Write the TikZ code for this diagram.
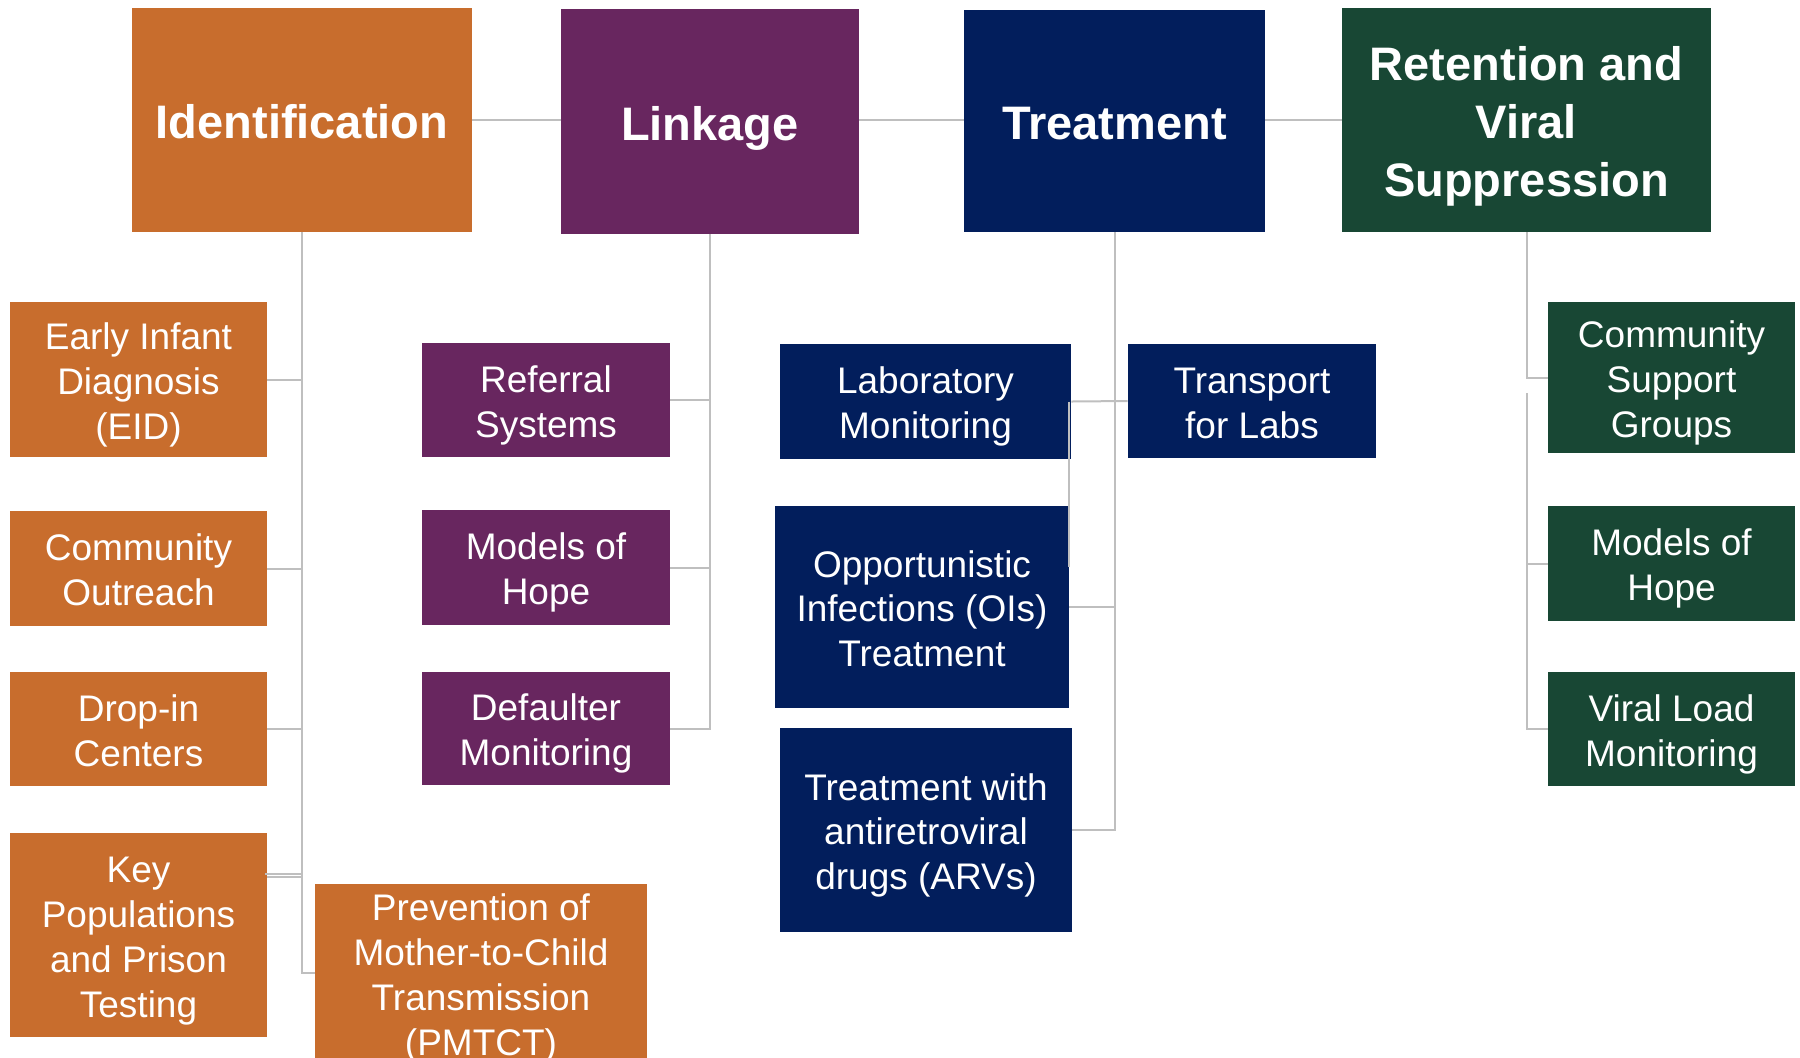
\documentclass[tikz,border=0pt]{standalone}
\usepackage{fontspec}
\setmainfont{Liberation Sans}
\definecolor{orng}{HTML}{C86D2D}
\definecolor{purp}{HTML}{68265F}
\definecolor{navy}{HTML}{021E5C}
\definecolor{grn}{HTML}{184734}
\definecolor{link}{HTML}{BFBFBF}
\begin{document}
\begin{tikzpicture}[x=0.5pt,y=-0.5pt,
  head/.style={inner sep=0pt, align=center, text=white,
    text height=23.5pt, text depth=4.7pt,
    font=\fontsize{23.5}{29}\selectfont\bfseries},
  headthree/.style={head, text height=81.5pt},
  sub/.style={inner sep=0pt, align=center, text=white,
    text height=40.9pt, text depth=3.7pt,
    font=\fontsize{18.5}{22.4}\selectfont},
  subthree/.style={sub, text height=63.3pt},
  subfour/.style={sub, text height=85.7pt},
  conn/.style={draw=link, line width=1pt}]
\useasboundingbox (0,0) rectangle (1800,1057);
\clip (0,0) rectangle (1800,1057);

% stage headers
\node[head, fill=orng, minimum width=170pt, minimum height=112pt] (idn) at (302,120) {Identification};
\node[head, fill=purp, minimum width=149pt, minimum height=112.5pt] (lnk) at (710,121.5) {Linkage};
\node[head, fill=navy, minimum width=150.5pt, minimum height=111pt] (trt) at (1114.5,121) {Treatment};
\node[headthree, fill=grn, minimum width=184.5pt, minimum height=112pt] (ret) at (1526.5,120) {Retention and\\Viral\\Suppression};

% identification activities
\node[subthree, fill=orng, minimum width=128.5pt, minimum height=77.5pt] (eid) at (138.5,379.5) {Early Infant\\Diagnosis\\(EID)};
\node[sub, fill=orng, minimum width=128.5pt, minimum height=57.5pt] (cout) at (138.5,568.5) {Community\\Outreach};
\node[sub, fill=orng, minimum width=128.5pt, minimum height=57pt] (drop) at (138.5,729) {Drop-in\\Centers};
\node[subfour, fill=orng, minimum width=128.5pt, minimum height=102pt] (key) at (138.5,935) {Key\\Populations\\and Prison\\Testing};
\node[subfour, fill=orng, minimum width=166pt, minimum height=87pt] (pmtct) at (481,973) {Prevention of\\Mother-to-Child\\Transmission\\(PMTCT)};

% linkage activities
\node[sub, fill=purp, minimum width=124pt, minimum height=57pt] (ref) at (546,400) {Referral\\Systems};
\node[sub, fill=purp, minimum width=124pt, minimum height=57.5pt] (mohA) at (546,567.5) {Models of\\Hope};
\node[sub, fill=purp, minimum width=124pt, minimum height=56.5pt] (def) at (546,728.5) {Defaulter\\Monitoring};

% treatment activities
\node[sub, fill=navy, minimum width=145.5pt, minimum height=57.5pt] (lab) at (925.5,401.5) {Laboratory\\Monitoring};
\node[subthree, fill=navy, minimum width=147pt, minimum height=101pt] (ois) at (922,607) {Opportunistic\\Infections (OIs)\\Treatment};
\node[subthree, fill=navy, minimum width=146pt, minimum height=102pt] (arv) at (926,830) {Treatment with\\antiretroviral\\drugs (ARVs)};
\node[sub, fill=navy, minimum width=124pt, minimum height=57pt] (trn) at (1252,401) {Transport\\for Labs};

% retention activities
\node[subthree, fill=grn, minimum width=123.5pt, minimum height=75.5pt] (csg) at (1671.5,377.5) {Community\\Support\\Groups};
\node[sub, fill=grn, minimum width=123.5pt, minimum height=57.5pt] (mohB) at (1671.5,563.5) {Models of\\Hope};
\node[sub, fill=grn, minimum width=123.5pt, minimum height=57pt] (vlm) at (1671.5,729) {Viral Load\\Monitoring};

% header chain
\draw[conn] (idn.east) -- (lnk.west |- idn.east);
\draw[conn] (lnk.east |- idn.east) -- (trt.west |- idn.east);
\draw[conn] (trt.east |- idn.east) -- (ret.west |- idn.east);

% identification tree
\coordinate (idnEnd) at (idn.south |- pmtct.west);
\draw[conn] (idn.south) -- (idnEnd) -- (pmtct.west);
\draw[conn] (eid.east) -- (eid.east -| idn.south);
\draw[conn] (cout.east) -- (cout.east -| idn.south);
\draw[conn] (drop.east) -- (drop.east -| idn.south);
\coordinate (keyA) at (265,873.5);
\coordinate (keyB) at (267,876.5);
\draw[conn] (keyA) -- (keyA -| idn.south) -- (keyB -| idn.south) -- (keyB);

% linkage tree
\draw[conn] (lnk.south) -- (lnk.south |- def.east) -- (def.east);
\draw[conn] (ref.east) -- (ref.east -| lnk.south);
\draw[conn] (mohA.east) -- (mohA.east -| lnk.south);

% treatment tree
\draw[conn] (trt.south) -- (trt.south |- arv.east) -- (arv.east);
\draw[conn] (lab.east) -- (trn.west);
\draw[conn] (ois.east) -- (ois.east -| trt.south);
\coordinate (labDrop) at (1069,567);
\draw[conn] (labDrop |- lab.east) -- (labDrop);

% retention tree
\draw[conn] (ret.south) -- (ret.south |- csg.west) -- (csg.west);
\coordinate (retTop) at (1527,393);
\draw[conn] (retTop) -- (retTop |- vlm.west) -- (vlm.west);
\draw[conn] (mohB.west) -- (mohB.west -| retTop);
\end{tikzpicture}
\end{document}
